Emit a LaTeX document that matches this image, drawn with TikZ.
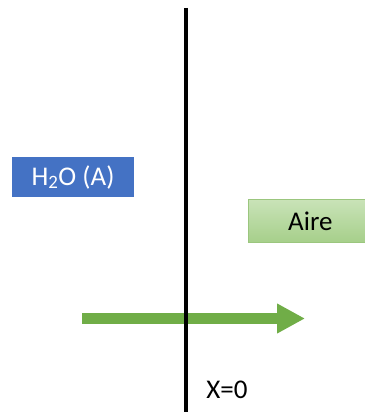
\documentclass[tikz,border=0pt]{standalone}
\usepackage{fontspec}
\setmainfont{Carlito}
\usetikzlibrary{arrows.meta}
\usetikzlibrary{positioning}
\definecolor{waterblue}{HTML}{4472C4}
\definecolor{airgreen}{HTML}{70AD47}
\definecolor{airtop}{HTML}{C9E3B8}
\definecolor{airbottom}{HTML}{A6CF8A}
\tikzset{
  phase/.style={minimum height=40pt,inner sep=0pt},
  water/.style={phase,fill=waterblue,text=white,minimum width=122pt,font=\fontsize{27}{32}\selectfont},
  air/.style={phase,top color=airtop,bottom color=airbottom,draw=airgreen!70,line width=0.8pt,
    minimum width=124pt,minimum height=43pt,font=\fontsize{27}{32}\selectfont},
  interface/.style={draw,line width=4pt},
  flux/.style={draw=airgreen,line width=11pt,-{Triangle[length=28pt,width=28pt]}}}

\begin{document}
\begin{tikzpicture}[x=1pt,y=-1pt]
  \useasboundingbox (0,0) rectangle (364,412);
  \node [water] (water) at (73,177) {H\textsubscript{2}O (A)};
  \node [air, anchor=west] (air) at (248,221) {Aire};
  \coordinate (top) at (186,8);
  \coordinate (bottom) at (186,412);
  \coordinate (start) at (82,318.5);
  \coordinate (end) at (305,318.5);
  \draw [flux] (start) -- (end);
  \draw [interface] (top) -- (bottom);
  \node [font=\fontsize{27}{32}\selectfont] (origin) at (227,390) {X=0};
\end{tikzpicture}
\end{document}
